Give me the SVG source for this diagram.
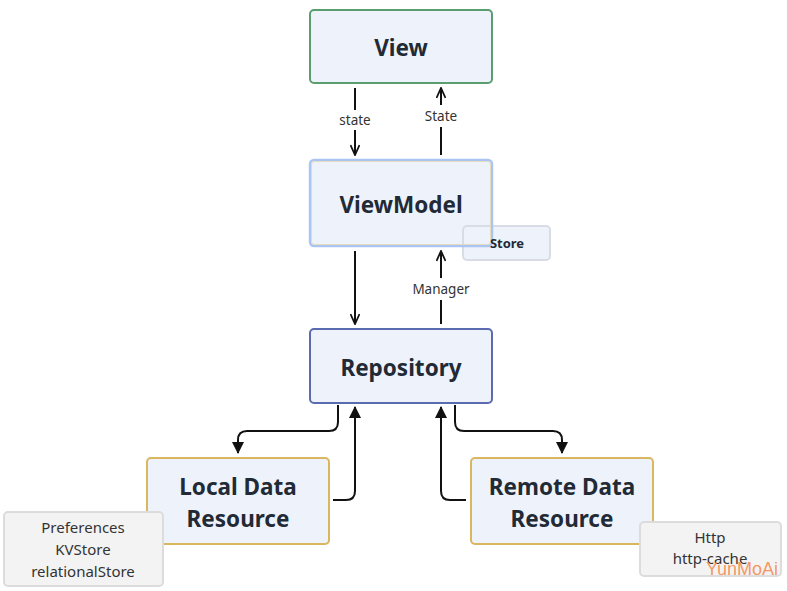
<svg xmlns="http://www.w3.org/2000/svg" width="787" height="591" viewBox="0 0 787 591">
<style>
.node{fill:#eef3fb;stroke-width:2}
.lbl{font-family:"Noto Sans","Liberation Sans",sans-serif;font-weight:bold;font-size:22.5px;fill:#222a36;text-anchor:middle}
.elbl{font-family:"Noto Sans","Liberation Sans",sans-serif;font-size:13.5px;fill:#333;text-anchor:middle}
.note{fill:#f3f3f3;stroke:#dcdcdc;stroke-width:2}
.ntxt{font-family:"Noto Sans","Liberation Sans",sans-serif;font-size:15px;fill:#333;text-anchor:middle}
.c{fill:none;stroke:#111;stroke-width:2}
</style>
<defs>
<marker id="open" viewBox="0 0 12 10" refX="11" refY="5" markerWidth="12" markerHeight="10" markerUnits="userSpaceOnUse" orient="auto"><path d="M1,0.5 L11,5 L1,9.5" fill="none" stroke="#111" stroke-width="1.8"/></marker>
<marker id="fill" viewBox="0 0 12 12" refX="11" refY="6" markerWidth="12" markerHeight="12" markerUnits="userSpaceOnUse" orient="auto"><path d="M0,0 L12,6 L0,12 Z" fill="#111"/></marker>
</defs>
<rect width="787" height="591" fill="#fff"/>
<g id="connectors">
<path class="c" d="M355,88 V155" marker-end="url(#open)"/>
<rect x="334" y="110" width="42" height="20" fill="#fff"/>
<text class="elbl" x="355" y="125">state</text>
<path class="c" d="M441,155 V88" marker-end="url(#open)"/>
<rect x="418" y="105" width="46" height="22" fill="#fff"/>
<text class="elbl" x="441" y="121">State</text>
<path class="c" d="M355,251 V324" marker-end="url(#open)"/>
<path class="c" d="M441,324 V251" marker-end="url(#open)"/>
<rect x="410" y="278" width="62" height="22" fill="#fff"/>
<text class="elbl" x="441" y="294">Manager</text>
<path class="c" d="M338,405 V422 Q338,431 329,431 H247 Q238,431 238,440 V453" marker-end="url(#fill)"/>
<path class="c" d="M333,500 H346 Q355,500 355,491 V407" marker-end="url(#fill)"/>
<path class="c" d="M455,405 V422 Q455,431 464,431 H553 Q562,431 562,440 V453" marker-end="url(#fill)"/>
<path class="c" d="M466,500 H450 Q441,500 441,491 V407" marker-end="url(#fill)"/>
</g>
<g id="view">
<rect class="node" x="310" y="10" width="182" height="73" rx="4" stroke="#5a9e6f"/>
<text class="lbl" x="401" y="56">View</text>
</g>
<g id="viewmodel">
<rect x="310" y="160" width="182" height="86" rx="4" fill="#eef3fb"/>
<rect x="463" y="226" width="87" height="34" rx="4" fill="#eef3fb" stroke="#d8dce6" stroke-width="2"/>
<rect x="310" y="160" width="182" height="86" rx="4" fill="none" stroke="#aac4f3" stroke-width="2.5"/>
<rect x="311.5" y="161.5" width="179" height="83" rx="3" fill="none" stroke="#e6d9b0" stroke-width="0.8"/>
<text class="lbl" x="401" y="213">ViewModel</text>
<text x="507" y="248" font-family="Noto Sans,Liberation Sans,sans-serif" font-weight="bold" font-size="13" fill="#222a36" text-anchor="middle">Store</text>
</g>
<g id="repository">
<rect class="node" x="310" y="329" width="182" height="74" rx="4" stroke="#5b6bb0"/>
<text class="lbl" x="401" y="376">Repository</text>
</g>
<g id="local">
<rect class="node" x="147" y="458" width="182" height="86" rx="4" stroke="#d9b75f"/>
<text class="lbl" x="238" y="495">Local Data</text>
<text class="lbl" x="238" y="527">Resource</text>
</g>
<g id="remote">
<rect class="node" x="471" y="458" width="182" height="86" rx="4" stroke="#d9b75f"/>
<text class="lbl" x="562" y="495">Remote Data</text>
<text class="lbl" x="562" y="527">Resource</text>
</g>
<g id="local-note">
<rect class="note" x="4" y="512" width="159" height="74" rx="4"/>
<text class="ntxt" x="83" y="533">Preferences</text>
<text class="ntxt" x="83" y="555">KVStore</text>
<text class="ntxt" x="83" y="577">relationalStore</text>
</g>
<g id="remote-note">
<rect class="note" x="640" y="522" width="141" height="54" rx="4"/>
<text class="ntxt" x="710" y="543">Http</text>
<text class="ntxt" x="710" y="564">http-cache</text>
</g>
<text x="742" y="575" font-family="Liberation Sans,sans-serif" font-size="18" fill="#f58c52" fill-opacity="0.9" text-anchor="middle">YunMoAi</text>
</svg>
